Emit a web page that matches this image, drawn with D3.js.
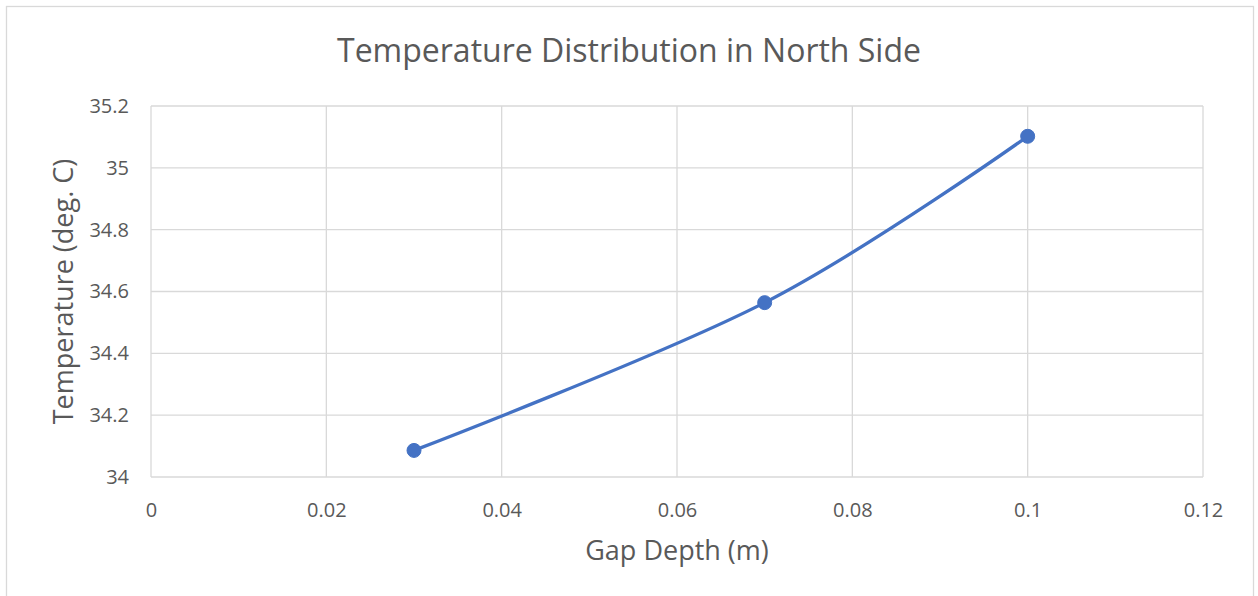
<!DOCTYPE html>
<html>
<head>
<meta charset="utf-8">
<script src="https://cdn.jsdelivr.net/npm/d3@7"></script>
<style>
  body { margin: 0; background: #fff; }
  svg { display: block; font-family: "Open Sans", "Noto Sans", sans-serif; }
  .grid line { stroke: #d9d9d9; stroke-width: 1.3; }
  .tick text { fill: #595959; font-size: 20px; }
</style>
</head>
<body>
<script>
const width = 1258;
const height = 596;

// data
const gapDepth = [0.03, 0.07, 0.1];
const temperature = [34.086, 34.564, 35.102];
const xTicks = [0, 0.02, 0.04, 0.06, 0.08, 0.1, 0.12];
const yTicks = [34, 34.2, 34.4, 34.6, 34.8, 35, 35.2];

const margin = {left: 151, right: 55, top: 106, bottom: 119};

const svg = d3.select("body")
  .append("svg")
  .attr("width", width)
  .attr("height", height);

// chart frame
svg.append("rect")
  .attr("x", 6.5).attr("y", 6.5)
  .attr("width", 1247).attr("height", 600)
  .attr("fill", "#fff")
  .attr("stroke", "#d9d9d9")
  .attr("stroke-width", 1.3);

const x = d3.scaleLinear().domain([0, 0.12]).range([margin.left, width - margin.right]);
const y = d3.scaleLinear().domain([34, 35.2]).range([height - margin.bottom, margin.top]);

// gridlines
svg.append("g").attr("class", "grid")
  .selectAll("line.h").data(yTicks).enter().append("line")
  .attr("x1", x(0)).attr("x2", x(0.12))
  .attr("y1", d => y(d)).attr("y2", d => y(d));
svg.append("g").attr("class", "grid")
  .selectAll("line.v").data(xTicks).enter().append("line")
  .attr("y1", y(34)).attr("y2", y(35.2))
  .attr("x1", d => x(d)).attr("x2", d => x(d));

// axes (labels only)
svg.append("g")
  .attr("transform", `translate(0,${y(34)})`)
  .call(d3.axisBottom(x).tickValues(xTicks).tickSize(0).tickPadding(26).tickFormat(d => String(+d.toFixed(2))))
  .call(g => g.select(".domain").remove());

svg.append("g")
  .attr("transform", `translate(${x(0)},0)`)
  .call(d3.axisLeft(y).tickValues(yTicks).tickSize(0).tickPadding(22).tickFormat(d => String(+d.toFixed(1))))
  .call(g => g.select(".domain").remove());

svg.selectAll(".tick text").style("font-family", "'Open Sans', sans-serif");

// smoothed line
const pts = gapDepth.map((d, i) => [d, temperature[i]]);
const line = d3.line()
  .x(d => x(d[0]))
  .y(d => y(d[1]))
  .curve(d3.curveCatmullRom.alpha(0));

svg.append("path")
  .datum(pts)
  .attr("d", line)
  .attr("fill", "none")
  .attr("stroke", "#4472c4")
  .attr("stroke-width", 3.3)
  .attr("stroke-linecap", "round");

svg.selectAll(".pt")
  .data(pts)
  .enter()
  .append("circle")
  .attr("class", "pt")
  .attr("cx", d => x(d[0]))
  .attr("cy", d => y(d[1]))
  .attr("r", 7)
  .attr("fill", "#4472c4")
  .attr("stroke", "#4472c4")
  .attr("stroke-width", 1);

// titles
svg.append("text")
  .attr("x", 629).attr("y", 62)
  .attr("text-anchor", "middle")
  .attr("fill", "#595959")
  .style("font-size", "32px")
  .text("Temperature Distribution in North Side");

svg.append("text")
  .attr("x", x(0.06)).attr("y", 560)
  .attr("text-anchor", "middle")
  .attr("fill", "#595959")
  .style("font-size", "27px")
  .text("Gap Depth (m)");

svg.append("text")
  .attr("transform", `translate(73,${(y(34) + y(35.2)) / 2}) rotate(-90)`)
  .attr("text-anchor", "middle")
  .attr("fill", "#595959")
  .style("font-size", "27px")
  .text("Temperature (deg. C)");
</script>
</body>
</html>
